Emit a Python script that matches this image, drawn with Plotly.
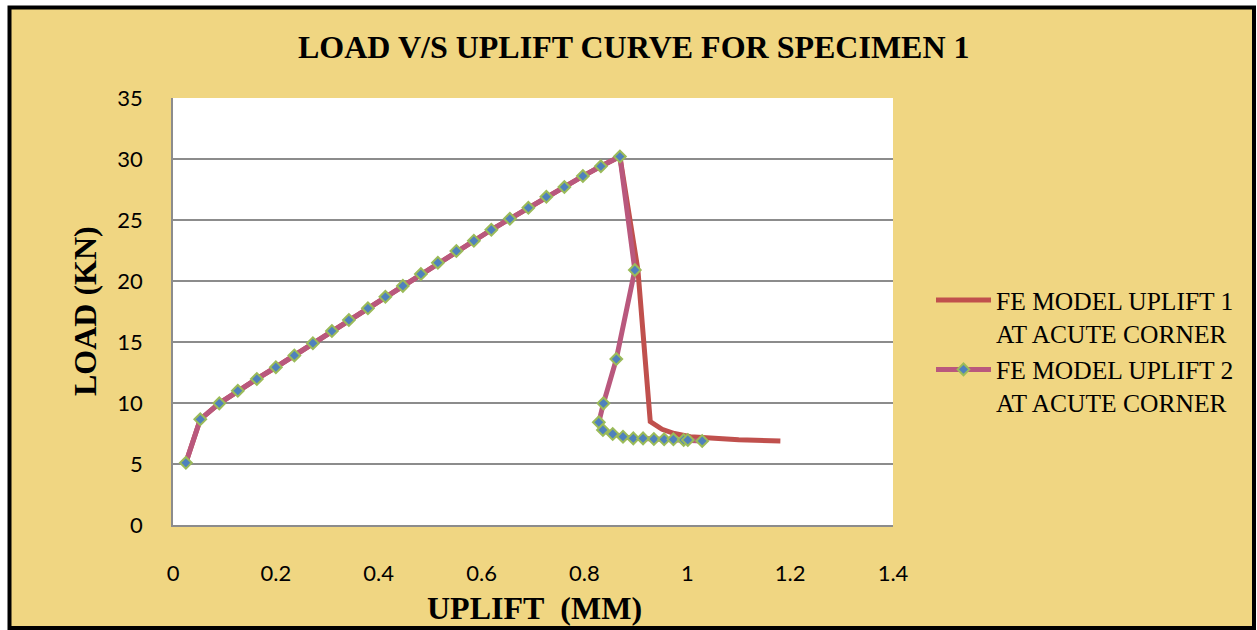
import plotly.graph_objects as go

# ---------------- data ----------------
rise_x = [0.025, 0.053, 0.090, 0.126, 0.163, 0.200, 0.236, 0.272, 0.309, 0.342,
          0.379, 0.413, 0.447, 0.482, 0.515, 0.551, 0.585, 0.619, 0.655, 0.691,
          0.726, 0.761, 0.797, 0.832, 0.869]
rise_y = [5.1, 8.66, 9.97, 11.0, 11.97, 12.93, 13.9, 14.9, 15.9, 16.8,
          17.76, 18.7, 19.6, 20.57, 21.5, 22.46, 23.3, 24.2, 25.1, 26.0,
          26.9, 27.7, 28.6, 29.4, 30.2]

s1_tail_x = [0.904, 0.928, 0.951, 0.975, 1.006, 1.05, 1.10, 1.181]
s1_tail_y = [20.9, 8.47, 7.84, 7.5, 7.24, 7.08, 6.98, 6.89]

s2_tail_x = [0.898, 0.862, 0.837, 0.828, 0.836, 0.855, 0.875, 0.895, 0.914,
             0.935, 0.955, 0.973, 0.993, 1.001, 1.029]
s2_tail_y = [20.9, 13.6, 9.97, 8.42, 7.79, 7.46, 7.24, 7.1, 7.1,
             7.05, 7.02, 7.02, 6.97, 6.97, 6.89]

series1_name = "FE MODEL UPLIFT 1<br>AT ACUTE CORNER"
series2_name = "FE MODEL UPLIFT 2<br>AT ACUTE CORNER"
title_text = "LOAD V/S UPLIFT CURVE FOR SPECIMEN 1"
x_title = "UPLIFT\u00a0 (MM)"
y_title = "LOAD (KN)"
x_ticks = [0, 0.2, 0.4, 0.6, 0.8, 1, 1.2, 1.4]
y_ticks = [0, 5, 10, 15, 20, 25, 30, 35]

# ---------------- layout geometry ----------------
W, H = 1257, 630
L, R, T, B = 173, 364, 98, 105
PW, PH = W - L - R, H - T - B


def px2x(px):
    return (px - L) / PW


def px2y(py):
    return (H - B - py) / PH


GOLD = "#F0D682"
GRID = "#8C8C8C"
SERIF = "Liberation Serif, Times New Roman, serif"
SANS = "Lato, Open Sans, sans-serif"

fig = go.Figure()
fig.add_trace(go.Scatter(
    x=rise_x + s1_tail_x, y=rise_y + s1_tail_y, name=series1_name,
    mode="lines", line=dict(color="#C0504D", width=5),
))
fig.add_trace(go.Scatter(
    x=rise_x + s2_tail_x, y=rise_y + s2_tail_y, name=series2_name,
    mode="lines+markers", line=dict(color="#B9587D", width=5),
    marker=dict(symbol="diamond", size=9, color="#4F81BD",
                line=dict(color="#9BBB59", width=2)),
))

# outer white ring + black border
ox0, oy0, ox1, oy1 = px2x(0), px2y(0), px2x(W), px2y(H)
ix0, iy0, ix1, iy1 = px2x(9.5), px2y(7.5), px2x(1254), px2y(628)
ring = (f"M{ox0},{oy0} L{ox1},{oy0} L{ox1},{oy1} L{ox0},{oy1} Z "
        f"M{ix0},{iy0} L{ix1},{iy0} L{ix1},{iy1} L{ix0},{iy1} Z")
shapes = [
    dict(type="path", xref="paper", yref="paper", path=ring, fillcolor="white",
         fillrule="evenodd", line=dict(width=0), layer="above"),
    dict(type="rect", xref="paper", yref="paper", x0=ix0, y0=iy0, x1=ix1, y1=iy1,
         line=dict(color="black", width=4), fillcolor="rgba(0,0,0,0)", layer="above"),
]

annotations = [
    dict(text=title_text, xref="paper", yref="paper", x=px2x(634), y=px2y(47),
         xanchor="center", yanchor="middle", showarrow=False,
         font=dict(family=SERIF, size=32, color="black", weight="bold")),
    dict(text=x_title, xref="paper", yref="paper", x=px2x(534), y=px2y(608),
         xanchor="center", yanchor="middle", showarrow=False,
         font=dict(family=SERIF, size=32, color="black", weight="bold")),
    dict(text=y_title, xref="paper", yref="paper", x=px2x(85), y=px2y(311),
         xanchor="center", yanchor="middle", showarrow=False, textangle=-90,
         font=dict(family=SERIF, size=32, color="black", weight="bold")),
]

fig.update_layout(
    width=W, height=H,
    margin=dict(l=L, r=R, t=T, b=B, pad=0, autoexpand=False),
    paper_bgcolor=GOLD, plot_bgcolor="white",
    showlegend=True,
    legend=dict(xref="container", yref="container",
                x=931 / W, y=1 - 277 / H, xanchor="left", yanchor="top",
                bgcolor="rgba(0,0,0,0)", valign="top", itemwidth=55,
                font=dict(family=SERIF, size=25.5, color="black"),
                tracegroupgap=0),
    shapes=shapes,
    annotations=annotations,
    xaxis=dict(range=[0, 1.4], tickvals=x_ticks, ticktext=[f"{v:g}" for v in x_ticks],
               showgrid=False, zeroline=False, showline=True, linecolor=GRID, linewidth=1.5,
               ticks="outside", ticklen=0, tickcolor="rgba(0,0,0,0)",
               ticklabelstandoff=28,
               tickfont=dict(family=SANS, size=22, color="black")),
    yaxis=dict(range=[0, 35], tickvals=y_ticks, ticktext=[f"{v:g}" for v in y_ticks],
               showgrid=True, gridcolor=GRID, gridwidth=1.5, zeroline=False,
               showline=True, linecolor=GRID, linewidth=1.5,
               ticks="outside", ticklen=0, tickcolor="rgba(0,0,0,0)",
               ticklabelstandoff=24,
               tickfont=dict(family=SANS, size=22, color="black")),
)

fig.write_html("out.html")
